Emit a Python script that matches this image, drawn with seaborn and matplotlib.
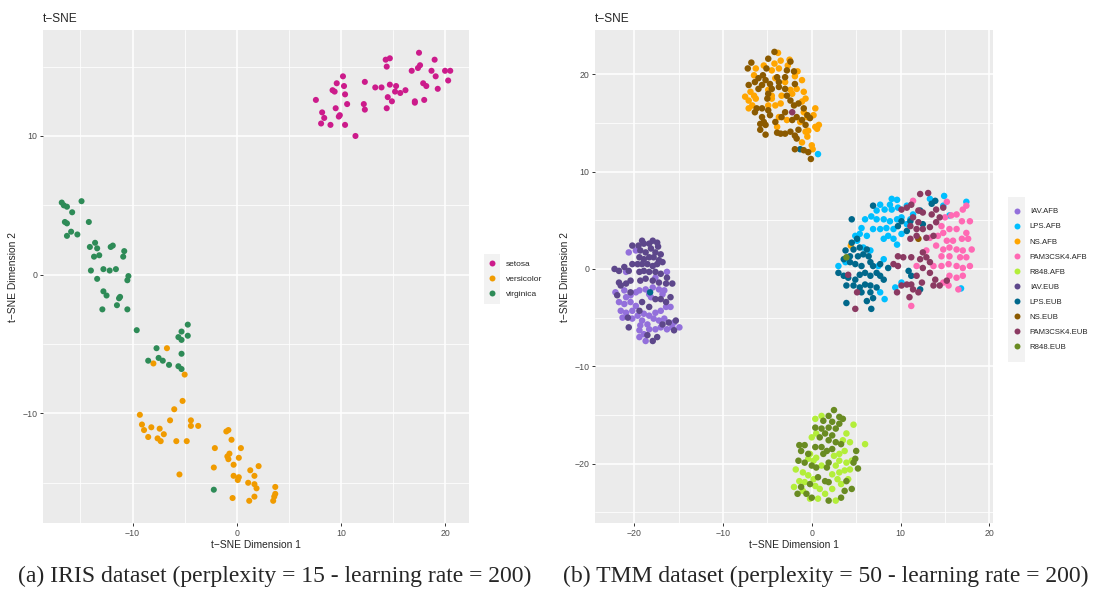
import pandas as pd
import matplotlib
matplotlib.use("Agg")
import matplotlib.pyplot as plt
import seaborn as sb
from matplotlib.lines import Line2D
from matplotlib.patches import Rectangle
from matplotlib.ticker import MultipleLocator

# IRIS t-SNE
setosa = [(17.5,16.0),(19.0,15.5),(14.3,15.5),(14.7,15.6),(14.4,15.0),(16.8,14.7),(17.4,14.9),(17.6,15.1),
          (18.7,14.7),(20.0,14.7),(20.5,14.7),(20.3,14.0),(19.1,14.3),(17.9,13.8),(18.2,13.6),(19.3,13.4),
          (10.2,14.3),(9.6,13.8),(10.3,13.6),(9.2,13.3),(9.4,13.2),(10.4,13.0),(12.3,13.9),(13.3,13.5),
          (13.9,13.5),(14.7,13.7),(15.3,13.6),(15.2,13.2),(15.7,13.1),(16.2,13.3),(14.5,12.8),(14.9,12.5),
          (14.4,12.0),(17.1,12.5),(17.1,12.4),(18.0,12.6),(7.6,12.6),(10.6,12.3),(12.2,12.3),(12.3,11.9),
          (9.5,12.0),(8.2,11.7),(8.4,11.3),(8.1,10.9),(9.0,10.8),(9.8,11.4),(9.9,11.5),(10.4,10.8),(11.4,10.0)]
versicolor = [(-6.7,-5.3),(-8.0,-6.4),(-5.0,-7.2),(-5.2,-9.1),(-6.0,-9.7),(-9.3,-10.1),(-6.4,-10.5),(-4.4,-10.5),
              (-4.4,-10.9),(-3.7,-10.9),(-9.1,-10.8),(-8.9,-11.2),(-8.2,-11.0),(-7.4,-11.1),(-7.0,-11.5),(-8.5,-11.7),
              (-7.6,-11.8),(-7.3,-12.0),(-5.8,-12.0),(-4.8,-12.0),(-1.0,-11.3),(-0.8,-11.2),(-0.5,-11.9),(-2.1,-12.5),
              (0.4,-12.5),(-0.9,-13.1),(-0.7,-12.9),(-0.8,-13.3),(0.2,-13.2),(-0.3,-13.7),(-2.2,-13.9),(2.1,-13.8),
              (1.3,-14.1),(1.7,-14.5),(-0.3,-14.5),(0.2,-14.6),(0.1,-14.8),(1.1,-15.0),(1.7,-15.1),(1.9,-15.4),
              (3.7,-15.3),(3.7,-15.8),(3.6,-16.0),(3.5,-16.3),(1.7,-16.0),(1.2,-16.3),(-0.4,-16.1),(-5.5,-14.4)]
virginica = [(-16.8,5.2),(-16.6,5.0),(-16.3,4.9),(-14.9,5.3),(-15.8,4.5),(-16.5,3.8),(-16.3,3.7),(-14.2,3.8),
             (-15.9,3.1),(-16.3,2.8),(-15.3,2.9),(-14.1,2.0),(-13.6,2.3),(-13.4,1.9),(-13.7,1.3),(-13.2,1.4),
             (-12.1,2.0),(-11.9,2.1),(-10.8,1.7),(-10.9,1.3),(-14.0,0.3),(-12.8,0.4),(-12.2,0.3),(-11.6,0.4),
             (-10.4,-0.1),(-10.5,-0.4),(-13.4,-0.3),(-12.8,-1.2),(-12.5,-1.5),(-11.2,-1.6),(-11.3,-1.7),(-11.5,-2.2),
             (-12.9,-2.5),(-10.5,-2.5),(-9.6,-4.0),(-4.7,-3.6),(-5.3,-4.1),(-5.6,-4.5),(-5.3,-4.7),(-4.7,-4.4),
             (-5.3,-5.7),(-7.7,-5.3),(-8.5,-6.2),(-7.5,-6.0),(-7.1,-6.2),(-6.5,-6.5),(-5.6,-6.6),(-5.3,-6.8),(-2.2,-15.5)]

# TMM t-SNE
iav_afb = [(-20.6,1.7),(-19.8,1.9),(-20.9,-0.3),(-22.1,-2.4),(-21.1,-2.2),(-20.9,-2.9),(-20.4,-2.7),(-19.8,-2.4),
           (-19.4,-2.2),(-18.7,-2.1),(-17.9,-1.9),(-17.2,-2.1),(-16.6,-2.2),(-21.7,-3.4),(-21.1,-3.6),(-20.4,-3.4),
           (-19.8,-3.8),(-21.5,-4.3),(-20.9,-4.5),(-20.2,-4.3),(-19.6,-4.8),(-18.9,-4.6),(-18.3,-4.8),(-17.6,-4.5),
           (-17.0,-4.3),(-16.4,-3.9),(-15.9,-3.9),(-21.3,-5.0),(-20.2,-5.1),(-19.1,-5.3),(-18.5,-5.7),(-17.8,-5.1),
           (-17.2,-5.3),(-16.6,-5.1),(-15.5,-5.5),(-14.9,-6.0),(-19.4,-6.3),(-18.9,-6.7),(-18.3,-6.2),(-17.6,-6.2),
           (-17.0,-6.0),(-16.3,-6.2),(-15.7,-6.0),(-19.4,-7.0),(-18.7,-7.4),(-19.3,-5.8),(-16.8,-2.6),(-18.1,-2.9),
           (-16.3,-0.3),(-17.6,-0.9),(-18.3,-2.6)]
lps_afb = [(9.0,7.2),(9.6,7.1),(8.8,6.6),(7.7,6.6),(8.2,6.1),(9.0,6.1),(9.7,6.3),(7.3,6.0),(6.7,5.4),(6.0,5.1),
           (5.6,4.2),(7.3,5.1),(8.1,5.1),(8.8,4.9),(9.6,5.1),(10.1,5.3),(6.9,4.1),(7.7,4.1),(8.4,4.2),(9.2,4.1),
           (10.1,3.6),(8.6,3.4),(8.1,3.1),(9.2,3.1),(9.6,2.5),(6.2,3.4),(5.4,3.6),(4.9,3.4),(5.1,2.9),(10.7,4.6),
           (11.1,5.1),(11.4,5.6),(14.9,7.5),(17.4,6.9),(15.5,5.5),(3.0,0.3),(3.8,0.7),(8.1,1.0),(7.5,0.3),(7.7,-2.4),
           (9.4,-1.9),(10.1,-1.4),(8.2,-3.1),(14.8,6.5),(13.3,7.2),(10.7,6.5),(6.6,1.9),(5.8,2.2),(16.8,-2.0),(0.7,11.8)]
ns_afb = [(-3.8,22.2),(-3.5,21.4),(-4.2,21.1),(-4.5,20.4),(-3.7,20.6),(-2.5,21.5),(-2.7,20.9),(-1.6,20.3),(-1.9,19.8),
          (-1.1,19.4),(-3.0,19.2),(-4.1,19.6),(-6.9,18.2),(-6.5,17.8),(-7.1,17.3),(-7.5,17.7),(-6.3,17.5),(-6.7,16.8),
          (-7.1,16.5),(-4.5,17.5),(-3.5,17.0),(-4.1,16.8),(-4.5,17.8),(-4.9,18.4),(-3.7,15.6),(-2.8,15.3),(-3.9,14.6),
          (-0.7,17.5),(-1.1,17.2),(-0.9,16.1),(-1.3,15.1),(-0.5,15.6),(0.2,15.8),(0.4,16.5),(-0.7,14.1),(-0.5,13.6),
          (-1.1,13.0),(0.0,12.7),(0.4,14.6),(0.6,14.4),(0.8,14.8),(-0.4,14.2),(-6.3,20.6),(-6.5,19.9),(-5.4,20.9),
          (-3.4,17.8),(-2.4,18.4),(-2.2,18.0),(-4.9,16.8),(0.1,12.3),(-0.9,18.2),(-1.7,18.5),(4.4,2.4)]
pam_afb = [(11.4,7.0),(14.6,4.4),(15.0,5.3),(15.7,5.5),(16.3,5.6),(17.0,6.1),(17.4,6.5),(16.9,4.9),(17.8,4.9),
           (17.4,3.7),(16.3,4.1),(15.5,4.1),(14.8,3.7),(14.2,3.4),(13.3,3.2),(15.2,2.9),(15.9,2.9),(16.9,3.1),
           (17.6,3.1),(18.0,2.0),(17.0,1.9),(16.3,2.0),(15.5,2.2),(14.8,2.0),(14.0,2.4),(14.6,1.3),(15.5,1.3),
           (16.7,1.2),(17.4,1.2),(17.8,0.3),(17.0,0.1),(16.3,0.3),(15.4,0.5),(14.6,0.3),(13.7,0.3),(11.8,0.3),
           (15.5,-0.7),(16.3,-0.9),(17.0,-0.7),(14.8,-1.4),(15.4,-1.7),(16.5,-2.1),(11.2,-3.8),(12.9,1.9),(15.2,6.9)]
r848_afb = [(1.1,-15.1),(0.4,-15.4),(0.5,-16.9),(0.0,-17.3),(4.7,-16.0),(6.0,-18.0),(3.9,-16.9),(3.5,-17.6),
            (4.3,-17.8),(3.7,-18.7),(3.1,-19.0),(2.5,-19.2),(3.1,-19.7),(3.9,-19.9),(4.3,-20.6),(3.7,-20.7),
            (3.1,-20.9),(2.3,-21.1),(2.9,-21.6),(3.3,-22.1),(4.1,-21.6),(-0.2,-19.0),(-0.4,-19.5),(0.2,-19.7),
            (-1.8,-20.6),(-1.0,-20.9),(-0.4,-21.2),(0.2,-21.6),(-1.4,-21.8),(-0.8,-21.9),(0.4,-22.3),(0.9,-22.6),
            (-2.0,-22.4),(-1.0,-22.8),(-0.2,-23.6),(0.7,-23.6),(2.7,-23.8),(1.5,-23.1),(2.3,-22.6),(0.5,-19.4),
            (1.1,-20.2),(4.5,-19.7),(2.7,-20.2)]
iav_eub = [(-19.1,2.9),(-20.2,2.4),(-19.5,2.4),(-18.9,2.6),(-18.3,2.6),(-17.9,2.9),(-17.4,2.7),(-17.3,2.3),(-19.3,1.9),
           (-18.7,1.7),(-18.1,2.1),(-17.6,1.7),(-17.0,1.5),(-19.4,1.2),(-18.9,1.0),(-18.3,1.2),(-17.8,1.2),(-17.2,0.9),
           (-20.2,0.5),(-19.6,0.5),(-19.1,0.5),(-18.5,0.5),(-17.9,0.3),(-17.4,0.5),(-16.8,0.7),(-22.2,0.0),(-21.7,-0.2),
           (-21.1,0.2),(-20.6,-0.2),(-19.4,-0.3),(-18.9,-0.2),(-18.3,-0.3),(-17.6,-0.3),(-17.0,-0.5),(-16.3,-0.9),
           (-21.7,-1.4),(-21.5,-1.7),(-20.9,-1.5),(-20.4,-1.2),(-19.3,-1.2),(-18.7,-1.0),(-17.9,-1.2),(-17.2,-1.4),
           (-16.4,-1.5),(-15.7,-1.5),(-21.9,-2.7),(-20.4,-2.4),(-19.1,-3.4),(-18.3,-3.9),(-17.6,-3.1),(-17.0,-3.1),
           (-16.4,-3.4),(-15.9,-2.9),(-19.4,-4.3),(-20.6,-6.0),(-20.7,-5.0),(-16.8,-5.7),(-16.1,-5.5),(-15.3,-5.3),
           (-15.5,-6.3),(-18.5,-6.8),(-17.9,-7.4),(-17.4,-7.0)]
lps_eub = [(4.5,5.1),(6.9,6.5),(10.1,4.9),(11.1,4.9),(12.2,6.0),(13.5,6.7),(13.9,7.0),(5.1,3.1),(4.5,2.7),(3.8,1.9),
           (4.7,2.0),(5.4,2.2),(6.2,2.0),(5.8,1.5),(6.4,1.3),(5.2,1.3),(4.3,1.3),(3.6,1.0),(4.3,0.7),(4.9,0.5),
           (5.6,0.3),(6.6,0.7),(6.9,0.3),(7.7,0.5),(3.0,-0.4),(3.6,-0.7),(4.1,-0.9),(4.9,-1.1),(5.4,-0.6),(6.0,-0.4),
           (6.6,-0.7),(7.3,-0.4),(7.7,-0.7),(3.9,-1.7),(4.7,-1.7),(5.4,-1.9),(6.0,-1.6),(6.6,-1.7),(7.3,-1.9),
           (6.6,-2.4),(5.6,-2.4),(6.2,-3.3),(6.9,-3.0),(6.7,-4.1),(3.9,-3.5),(10.9,-0.2),(11.2,-0.7),(12.2,-2.1),
           (12.5,4.6),(10.7,3.9),(9.7,4.4),(8.6,0.1),(8.1,-1.1),(-1.3,12.3),(-18.2,-2.4)]
ns_eub = [(-4.2,22.3),(-4.9,21.6),(-6.8,21.2),(-7.2,20.6),(-5.1,20.6),(-2.0,20.3),(-2.8,20.4),(-5.5,19.9),(-6.0,19.6),
          (-5.2,19.4),(-4.7,19.0),(-5.6,18.9),(-7.1,18.9),(-6.0,18.5),(-3.7,18.7),(-3.0,18.5),(-2.8,17.8),(-4.9,18.0),
          (-5.0,17.5),(-2.4,17.3),(-2.0,16.8),(-1.5,17.0),(-0.9,16.5),(-0.5,15.8),(-1.7,15.6),(-1.1,15.3),(-3.0,16.1),
          (-3.4,15.6),(-6.2,16.5),(-5.6,16.5),(-4.9,16.3),(-4.7,15.8),(-5.6,15.6),(-5.8,14.9),(-5.2,14.8),(-5.8,14.3),
          (-5.2,13.8),(-4.1,15.1),(-3.9,14.0),(-3.0,13.9),(-2.4,14.1),(-1.9,13.7),(-1.5,14.3),(-0.7,14.8),(-0.2,15.5),
          (-1.7,13.4),(-1.9,12.3),(-0.9,12.2),(-0.4,12.0),(-0.1,11.3),(-3.7,19.2),(-3.9,19.7),(-6.4,19.2),(-3.0,19.7),
          (-1.9,19.0),(-2.4,21.3),(-4.5,18.5),(-5.4,15.1),(-3.5,13.9),(-6.4,16.1),(-2.2,15.3),(12.0,3.1)]
pam_eub = [(10.1,6.1),(10.7,6.3),(11.2,6.6),(12.2,7.7),(13.1,7.8),(12.0,6.0),(12.5,5.8),(13.5,5.6),(14.0,6.1),
           (14.8,6.3),(11.4,5.3),(12.0,4.8),(11.1,4.4),(11.8,4.1),(12.5,4.1),(13.3,4.3),(14.0,4.8),(14.4,5.3),
           (11.8,3.4),(12.9,3.2),(13.7,3.4),(9.7,1.3),(10.3,1.2),(11.2,1.2),(9.2,0.5),(9.7,0.3),(12.2,1.0),
           (12.9,1.2),(13.3,0.7),(12.5,0.1),(13.3,-0.4),(13.9,-1.1),(11.8,-0.7),(12.4,-1.4),(11.2,-1.6),(10.7,-1.6),
           (11.4,-2.1),(12.0,-2.4),(11.0,-2.9),(10.1,-1.7),(9.6,-2.4),(13.7,-1.7),(14.4,-1.7),(12.5,1.7),(4.9,-4.1),
           (5.1,-2.4),(4.1,-0.6),(11.1,3.1),(15.2,-1.2),(-2.2,16.1)]
r848_eub = [(2.5,-14.5),(1.9,-15.1),(3.1,-15.2),(1.3,-15.6),(2.3,-15.7),(3.1,-15.9),(0.4,-16.3),(1.1,-16.4),
            (1.9,-16.3),(2.7,-16.4),(1.5,-16.9),(2.3,-17.1),(0.9,-17.3),(1.9,-17.6),(2.7,-17.8),(3.3,-18.0),
            (-1.4,-18.1),(-0.8,-18.1),(-1.2,-18.7),(-0.4,-19.0),(0.4,-18.3),(1.1,-18.3),(1.7,-18.7),(2.3,-18.5),
            (1.3,-19.0),(-1.5,-19.7),(-0.8,-19.9),(0.0,-20.2),(0.5,-20.4),(1.7,-20.4),(0.7,-21.4),(1.5,-21.8),
            (1.9,-21.9),(-0.2,-22.1),(-1.2,-22.4),(-1.6,-23.1),(-0.6,-23.1),(0.0,-23.5),(1.9,-23.8),(3.3,-23.5),
            (3.7,-22.8),(4.5,-22.6),(4.7,-19.9),(5.0,-18.7),(4.9,-19.5),(5.2,-20.5),(3.9,-21.8),(1.9,-19.9),
            (3.5,-15.4),(3.9,1.2)]

iris_groups = {'setosa': setosa, 'versicolor': versicolor, 'virginica': virginica}
iris_colors = {'setosa': '#CC1B8B', 'versicolor': '#F09B00', 'virginica': '#2E8B57'}

tmm_groups = {'IAV.AFB': iav_afb, 'LPS.AFB': lps_afb, 'NS.AFB': ns_afb, 'PAM3CSK4.AFB': pam_afb,
              'R848.AFB': r848_afb, 'IAV.EUB': iav_eub, 'LPS.EUB': lps_eub, 'NS.EUB': ns_eub,
              'PAM3CSK4.EUB': pam_eub, 'R848.EUB': r848_eub}
tmm_colors = {'IAV.AFB': '#9370DB', 'LPS.AFB': '#00BFFF', 'NS.AFB': '#FFA500', 'PAM3CSK4.AFB': '#FF69B4',
              'R848.AFB': '#B3EE3A', 'IAV.EUB': '#5D478B', 'LPS.EUB': '#00688B', 'NS.EUB': '#8B5A00',
              'PAM3CSK4.EUB': '#8B3A62', 'R848.EUB': '#698B22'}


def make_df(groups):
    rows = []
    for name, pts in groups.items():
        for x, y in pts:
            rows.append((x, y, name))
    return pd.DataFrame(rows, columns=['x', 'y', 'group'])


sb.set_style("darkgrid", {"axes.facecolor": "#EBEBEB", "grid.color": "white",
                          "xtick.bottom": True, "ytick.left": True})
plt.rcParams['font.family'] = ['Liberation Sans', 'DejaVu Sans']

W, H = 1096, 589
fig = plt.figure(figsize=(W / 100, H / 100), dpi=100)


def px_axes(l, t, r, b):
    return fig.add_axes([l / W, 1 - b / H, (r - l) / W, (b - t) / H])


def style_ax(ax, xlim, ylim, tsize):
    ax.set_xlim(*xlim)
    ax.set_ylim(*ylim)
    ax.xaxis.set_major_locator(MultipleLocator(10))
    ax.yaxis.set_major_locator(MultipleLocator(10))
    ax.xaxis.set_minor_locator(MultipleLocator(5))
    ax.yaxis.set_minor_locator(MultipleLocator(5))
    ax.grid(which='major', color='white', lw=1.1)
    ax.grid(which='minor', color='white', lw=0.55)
    ax.set_axisbelow(True)
    ax.tick_params(which='major', length=2.5, width=0.7, color='#333333',
                   labelcolor='#4D4D4D', labelsize=tsize, pad=1.5)
    ax.tick_params(which='minor', length=0)
    for s in ax.spines.values():
        s.set_visible(False)
    ax.set_title("t\u2212SNE", loc='left', fontsize=8.6, pad=6)
    ax.set_xlabel("t\u2212SNE Dimension 1", fontsize=7.4, labelpad=2)
    ax.set_ylabel("t\u2212SNE Dimension 2", fontsize=7.4, labelpad=3)


def add_legend(colors, left, top, bottom, kw, fsize, hlen, tpad, lspace):
    fig.patches.append(Rectangle((left / W, 1 - bottom / H), kw / W, (bottom - top) / H,
                                 transform=fig.transFigure, facecolor='#F2F2F2',
                                 edgecolor='none', zorder=0))
    handles = [Line2D([], [], ls='', marker='o', markersize=4.3, color=c, mec='none')
               for c in colors.values()]
    fig.legend(handles, list(colors.keys()), loc='center left',
               bbox_to_anchor=(left / W, 1 - (top + bottom) / 2 / H),
               bbox_transform=fig.transFigure, frameon=False, fontsize=fsize,
               handlelength=hlen, handletextpad=tpad, labelspacing=lspace,
               borderpad=0, borderaxespad=0)


# (a) IRIS
ax1 = px_axes(43, 30, 469, 523)
sb.scatterplot(data=make_df(iris_groups), x='x', y='y', hue='group', palette=iris_colors,
               s=19, linewidth=0, legend=False, ax=ax1)
style_ax(ax1, (-18.6, 22.3), (-17.9, 17.64), 6.3)
add_legend(iris_colors, 484, 254, 304, 16, 6.0, 2.0, 0.6, 0.85)

# (b) TMM
ax2 = px_axes(595, 30, 993, 523)
sb.scatterplot(data=make_df(tmm_groups), x='x', y='y', hue='group', palette=tmm_colors,
               s=22, linewidth=0, legend=False, ax=ax2)
style_ax(ax2, (-24.4, 20.4), (-26.1, 24.55), 6.3)
add_legend(tmm_colors, 1008, 197, 362, 17, 5.6, 2.3, 0.5, 0.98)

fig.text(275 / W, 1 - 576 / H, "(a) IRIS dataset (perplexity = 15 - learning rate = 200)",
         ha='center', va='center', fontsize=17, family=['Liberation Serif', 'DejaVu Serif'])
fig.text(826 / W, 1 - 576 / H, "(b) TMM dataset (perplexity = 50 - learning rate = 200)",
         ha='center', va='center', fontsize=17, family=['Liberation Serif', 'DejaVu Serif'])

fig.savefig("out.png", dpi=100)
